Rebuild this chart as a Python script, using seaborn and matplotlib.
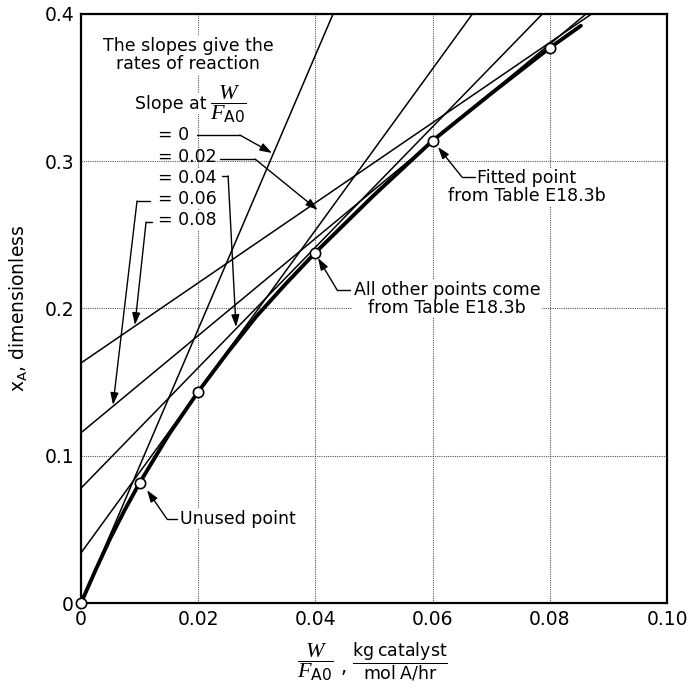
import numpy as np
import pandas as pd
import seaborn as sns
import matplotlib.pyplot as plt

# ----------------------------------------------------------
# Data
# ----------------------------------------------------------

# smooth curve x_A vs W/F_A0
w_curve = [0.0, 0.0025, 0.005, 0.0075, 0.01, 0.015, 0.02, 0.025, 0.03, 0.035, 0.04,
           0.05, 0.06, 0.07, 0.08, 0.0853]
xa_curve = [0.0, 0.0225, 0.044, 0.0635, 0.0816, 0.1145, 0.1435, 0.170, 0.195, 0.217, 0.238,
            0.277, 0.314, 0.346, 0.377, 0.392]

# open circles (table points)
w_points = [0.0, 0.01, 0.02, 0.04, 0.06, 0.08]
xa_points = [0.0, 0.0816, 0.1435, 0.238, 0.314, 0.377]

# tangent lines: where taken, y intercept, slope
tangent_at = [0.0, 0.02, 0.04, 0.06, 0.08]
tangent_b = [0.0, 0.034, 0.078, 0.1156, 0.163]
tangent_m = [9.3, 5.48, 4.09, 3.30, 2.72]
slope_labels = ['= 0', '= 0.02', '= 0.04', '= 0.06', '= 0.08']

x_ticks = [0, 0.02, 0.04, 0.06, 0.08, 0.10]
x_ticklabels = ['0', '0.02', '0.04', '0.06', '0.08', '0.10']
y_ticks = [0, 0.1, 0.2, 0.3, 0.4]
y_ticklabels = ['0', '0.1', '0.2', '0.3', '0.4']

# ----------------------------------------------------------
# Style
# ----------------------------------------------------------
sns.set_theme(style='white')
plt.rcParams['font.family'] = ['DejaVu Sans']
plt.rcParams['text.color'] = 'black'
plt.rcParams['axes.labelcolor'] = 'black'
plt.rcParams['mathtext.fontset'] = 'custom'
plt.rcParams['mathtext.rm'] = 'DejaVu Sans'
plt.rcParams['mathtext.it'] = 'Liberation Serif:italic'

fig = plt.figure(figsize=(6.93, 6.89), dpi=100)
ax = fig.add_axes([0.1169, 0.1248, 0.8456, 0.8549])

XMAX, YMAX = 0.10, 0.4

# tangent lines, from the y axis up to the top of the plot
rows = []
for at, b, m in zip(tangent_at, tangent_b, tangent_m):
    x_end = min(XMAX, (YMAX - b) / m)
    rows.append({'at': at, 'w': 0.0, 'xa': b})
    rows.append({'at': at, 'w': x_end, 'xa': b + m * x_end})
tangents = pd.DataFrame(rows)
sns.lineplot(data=tangents, x='w', y='xa', units='at', estimator=None,
             color='black', lw=1.1, ax=ax, zorder=3)

# main curve and points
sns.lineplot(x=w_curve, y=xa_curve, color='black', lw=2.8, sort=False,
             ax=ax, zorder=4)
sns.scatterplot(x=w_points, y=xa_points, s=55, color='white',
                edgecolor='black', linewidth=1.2, zorder=5, clip_on=False, ax=ax)

ax.set_xlim(0, XMAX)
ax.set_ylim(0, YMAX)
ax.set_xticks(x_ticks, x_ticklabels)
ax.set_yticks(y_ticks, y_ticklabels)
ax.tick_params(length=0, pad=5, labelsize=13.5, colors='black')
ax.grid(True, color='0.35', linestyle=(0, (1, 1)), lw=0.8)
for s in ax.spines.values():
    s.set_color('black')
    s.set_linewidth(1.6)

ax.set_xlabel('')
ax.set_ylabel(r'$\mathrm{x_A}$, dimensionless', fontsize=13.5, labelpad=10)

# x label built from two stacked fractions below the axis
WF = r'$\dfrac{W}{F_{\mathrm{A0}}}$'
ax.text(0.0400, -0.040, WF, ha='center', va='center', fontsize=16, clip_on=False)
ax.text(0.0448, -0.044, ',', ha='center', va='center', fontsize=14, clip_on=False)
ax.text(0.0545, -0.040, r'$\dfrac{\mathrm{kg\ catalyst}}{\mathrm{mol\ A/hr}}$',
        ha='center', va='center', fontsize=12.5, clip_on=False)

# ----------------------------------------------------------
# Annotations
# ----------------------------------------------------------
FS = 12.5
box = dict(fc='white', ec='none', pad=1.0)


def connector(start, elbow, tip):
    ax.plot([start[0], elbow[0]], [start[1], elbow[1]], color='black', lw=1.0, zorder=7)
    ax.annotate('', xy=tip, xytext=elbow,
                arrowprops=dict(arrowstyle='-|>,head_length=0.6,head_width=0.2',
                                color='black', lw=1.0, mutation_scale=12,
                                shrinkA=0, shrinkB=0),
                zorder=7)


ax.text(0.0183, 0.372, 'The slopes give the\nrates of reaction', ha='center', va='center',
        fontsize=FS, linespacing=1.0, bbox=box, zorder=6)
ax.text(0.0092, 0.339, 'Slope at', ha='left', va='center', fontsize=FS, bbox=box, zorder=6)
ax.text(0.0251, 0.339, WF, ha='center', va='center', fontsize=16, bbox=box, zorder=6)

label_y = [0.3178, 0.3029, 0.2886, 0.2743, 0.2601]
for lab, ly in zip(slope_labels, label_y):
    ax.text(0.01314, ly, lab, ha='left', va='center', fontsize=FS,
            bbox=None if lab == '= 0.02' else box, zorder=6)

connector((0.0198, 0.3178), (0.0271, 0.3178), (0.0326, 0.3056))
connector((0.0237, 0.3015), (0.0297, 0.3015), (0.0404, 0.2669))
connector((0.0241, 0.2900), (0.0251, 0.2900), (0.02645, 0.1874))
connector((0.0118, 0.2730), (0.00956, 0.2730), (0.00546, 0.1345))
connector((0.0121, 0.2587), (0.0111, 0.2587), (0.0092, 0.1888))

ax.text(0.0169, 0.057, 'Unused point', ha='left', va='center', fontsize=FS, bbox=box, zorder=6)
connector((0.01638, 0.057), (0.01468, 0.057), (0.01126, 0.0767))

ax.text(0.06246, 0.2064, 'All other points come\nfrom Table E18.3b', ha='center', va='center',
        fontsize=FS, linespacing=0.95, bbox=box, zorder=6)
connector((0.0459, 0.2126), (0.0437, 0.2126), (0.04044, 0.2343))

ax.text(0.0761, 0.2825, 'Fitted point\nfrom Table E18.3b', ha='center', va='center',
        fontsize=FS, linespacing=0.95, bbox=box, zorder=6)
connector((0.0672, 0.2893), (0.0650, 0.2893), (0.0609, 0.3097))

fig.savefig('out.png', dpi=100)
